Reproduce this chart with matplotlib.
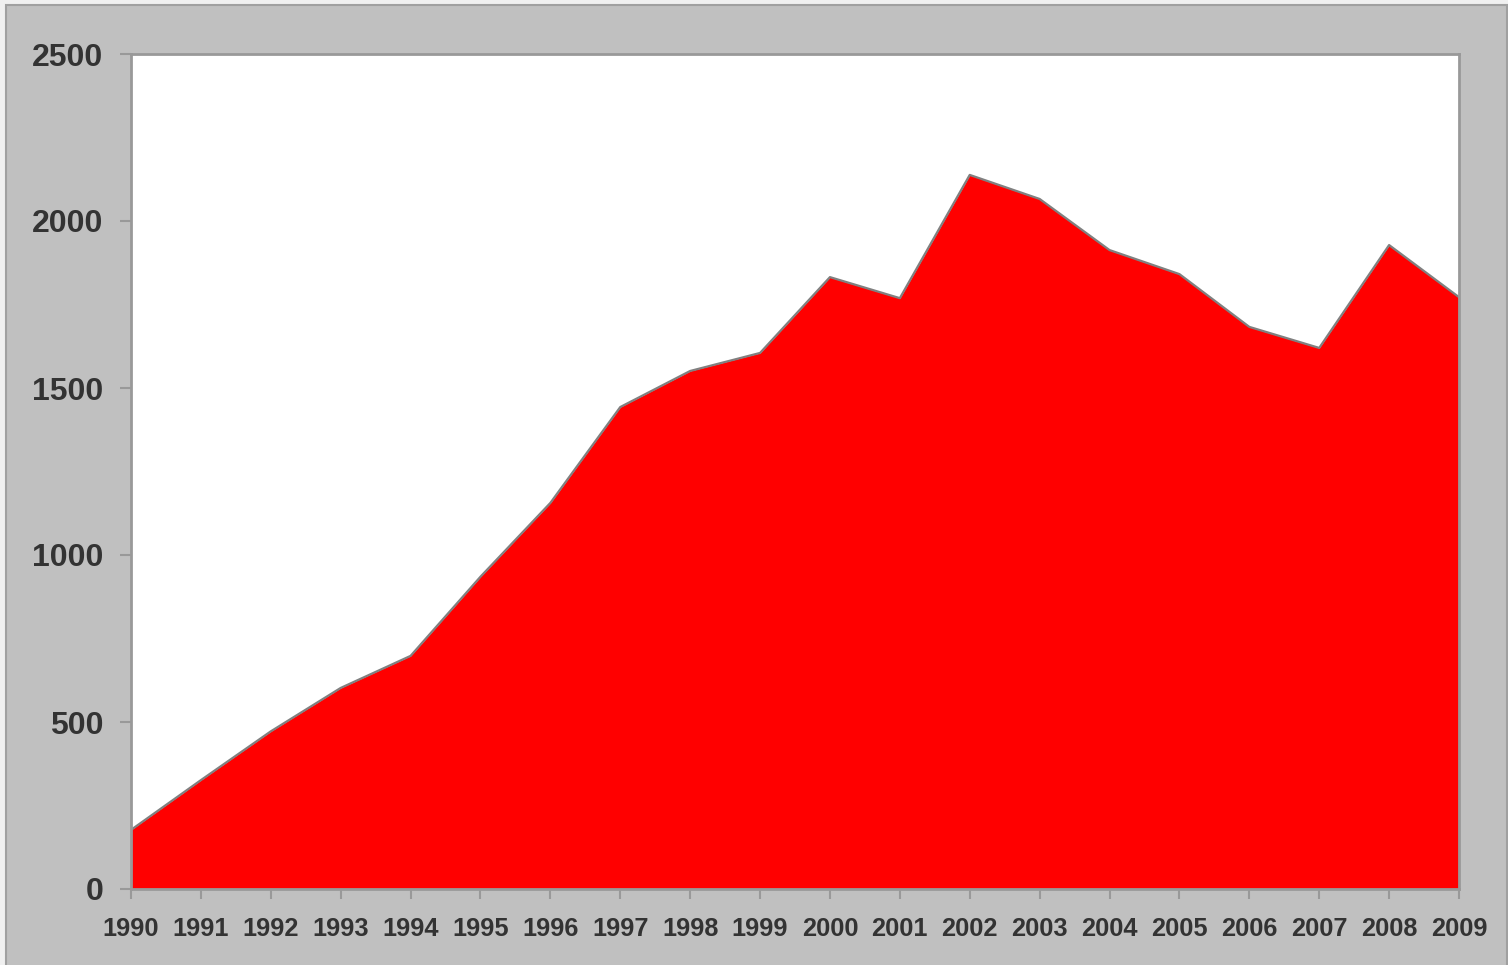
import matplotlib
matplotlib.use("Agg")
import matplotlib.pyplot as plt
from matplotlib.patches import Rectangle

years = list(range(1990, 2010))
values = [177, 326, 472, 602, 698, 935, 1156, 1443, 1551, 1605,
          1832, 1769, 2138, 2066, 1913, 1841, 1683, 1620, 1928, 1772]
y_ticks = [0, 500, 1000, 1500, 2000, 2500]

plt.rcParams['font.family'] = ['Liberation Sans', 'DejaVu Sans']

fig = plt.figure(figsize=(15.08, 9.65), dpi=100, facecolor='#F0F0F0')
# grey chart frame
fig.patches.append(Rectangle((6 / 1508, -0.01), 1501 / 1508, 1 - 5 / 965 + 0.01,
                             transform=fig.transFigure, facecolor='#C0C0C0',
                             edgecolor='#A0A0A0', linewidth=1.5, zorder=-10))

ax = fig.add_axes([131 / 1508, 1 - 889 / 965, 1328 / 1508, 835 / 965])
ax.set_facecolor('white')

ax.fill_between(years, values, 0, color='#FF0000', linewidth=0, zorder=2)
ax.plot(years, values, color='#808080', linewidth=1.6, zorder=3)

ax.set_xlim(1990, 2009)
ax.set_ylim(0, 2500)
ax.set_xticks(years)
ax.set_xticklabels([str(y) for y in years])
ax.set_yticks(y_ticks)

for s in ax.spines.values():
    s.set_color('#999999')
    s.set_linewidth(2)
    s.set_zorder(4)

ax.tick_params(axis='x', direction='out', length=7, width=1.5, color='#999999',
               pad=13, labelsize=18.3, labelcolor='#333333')
ax.tick_params(axis='y', direction='out', length=8, width=1.5, color='#999999',
               pad=12, labelsize=23, labelcolor='#333333')
for lbl in ax.get_xticklabels() + ax.get_yticklabels():
    lbl.set_fontweight('bold')

fig.savefig('out.png', dpi=100, facecolor=fig.get_facecolor())
